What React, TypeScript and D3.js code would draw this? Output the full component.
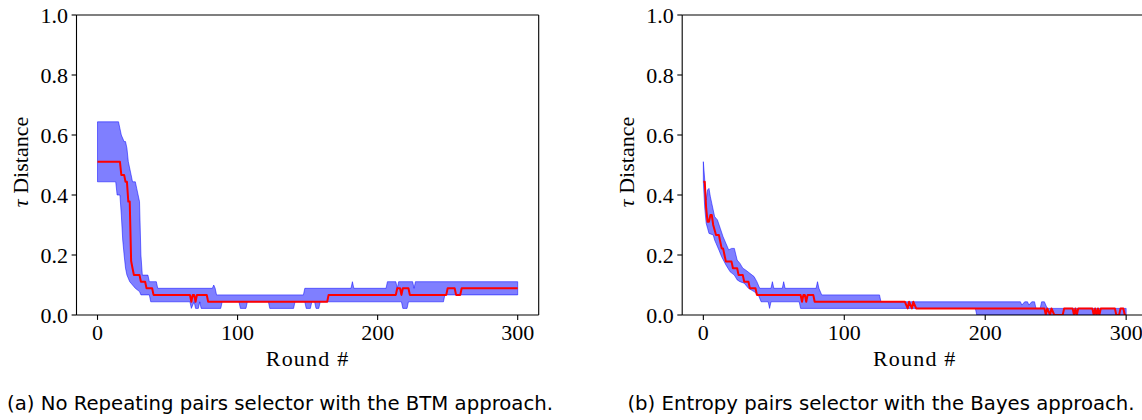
import React from "react";
import * as d3 from "d3";

// ---------- data ----------
const roundTicks = [0, 100, 200, 300];
const tauTicks = [0, 0.2, 0.4, 0.6, 0.8, 1.0];

// Panel (a): No Repeating pairs selector, BTM approach. [round, tau]
const meanA: [number, number][] = [
  [0, 0.511], [16, 0.511], [17, 0.467], [19, 0.467], [20, 0.444], [21, 0.444], [22, 0.378], [23, 0.378],
  [24, 0.18], [25, 0.156], [26, 0.133], [30, 0.133], [31, 0.111], [34, 0.111], [35, 0.089], [39, 0.089],
  [40, 0.067], [66, 0.067], [67, 0.044], [68, 0.067], [69, 0.067], [70, 0.044], [71, 0.067], [78, 0.067],
  [79, 0.044], [164, 0.044], [165, 0.067], [213, 0.067], [214, 0.089], [216, 0.089], [217, 0.067],
  [218, 0.089], [222, 0.089], [223, 0.067], [249, 0.067], [250, 0.089], [255, 0.089], [256, 0.067],
  [259, 0.067], [260, 0.089], [300, 0.089],
];
const upperA: [number, number][] = [
  [0, 0.644], [15, 0.644], [16, 0.622], [17, 0.6], [19, 0.578], [20, 0.578], [21, 0.556], [22, 0.511],
  [24, 0.467], [25, 0.444], [27, 0.444], [28, 0.422], [29, 0.4], [30, 0.378], [31, 0.2], [32, 0.133],
  [36, 0.133], [37, 0.111], [42, 0.111], [43, 0.089], [82, 0.089], [83, 0.1], [84, 0.089], [85, 0.067],
  [147, 0.067], [148, 0.089], [181, 0.089], [182, 0.111], [183, 0.089], [206, 0.089], [207, 0.111],
  [213, 0.111], [214, 0.089], [215, 0.111], [225, 0.111], [226, 0.089], [227, 0.111], [300, 0.111],
];
const lowerA: [number, number][] = [
  [0, 0.444], [13, 0.444], [14, 0.4], [16, 0.4], [17, 0.333], [18, 0.25], [19, 0.2], [20, 0.156],
  [21, 0.133], [23, 0.111], [25, 0.1], [27, 0.089], [30, 0.078], [31, 0.067], [37, 0.067], [38, 0.044],
  [66, 0.044], [67, 0.022], [69, 0.044], [70, 0.022], [72, 0.022], [73, 0.044], [74, 0.022], [88, 0.022],
  [89, 0.044], [101, 0.044], [102, 0.022], [106, 0.022], [107, 0.044], [122, 0.044], [123, 0.022],
  [140, 0.022], [141, 0.044], [148, 0.044], [149, 0.022], [152, 0.022], [153, 0.044], [155, 0.044],
  [156, 0.022], [158, 0.022], [159, 0.044], [217, 0.044], [218, 0.022], [221, 0.022], [222, 0.044],
  [247, 0.044], [248, 0.067], [300, 0.067],
];

// Panel (b): Entropy pairs selector, Bayes approach. [round, tau]
const meanB: [number, number][] = [
  [0, 0.444], [1, 0.444], [2, 0.356], [3, 0.311], [4, 0.311], [5, 0.333], [6, 0.333], [7, 0.3],
  [9, 0.267], [11, 0.267], [12, 0.244], [13, 0.222], [14, 0.222], [15, 0.2], [16, 0.178], [20, 0.178],
  [21, 0.156], [24, 0.156], [25, 0.133], [28, 0.133], [29, 0.111], [32, 0.111], [33, 0.089], [37, 0.089],
  [38, 0.067], [69, 0.067], [70, 0.044], [71, 0.067], [72, 0.067], [73, 0.044], [74, 0.067], [78, 0.067],
  [79, 0.044], [143, 0.044], [145, 0.022], [146, 0.044], [148, 0.022], [149, 0.044], [151, 0.022],
  [242, 0.022], [243, 0], [244, 0.022], [246, 0], [247, 0.022], [249, 0], [255, 0], [256, 0.022],
  [262, 0.022], [263, 0], [264, 0.022], [265, 0], [266, 0.022], [276, 0.022], [277, 0], [278, 0.022],
  [279, 0], [280, 0.022], [281, 0], [282, 0.022], [292, 0.022], [293, 0], [295, 0], [296, 0.022],
  [298, 0.022], [299, 0], [300, 0],
];
const upperB: [number, number][] = [
  [0, 0.511], [1, 0.45], [2, 0.383], [3, 0.417], [4, 0.422], [5, 0.394], [6, 0.372], [7, 0.35],
  [8, 0.328], [10, 0.317], [12, 0.289], [14, 0.261], [16, 0.239], [18, 0.217], [20, 0.222], [22, 0.222],
  [24, 0.183], [26, 0.172], [28, 0.156], [30, 0.15], [33, 0.139], [36, 0.128], [38, 0.111], [40, 0.089],
  [48, 0.089], [49, 0.111], [50, 0.089], [56, 0.089], [57, 0.111], [58, 0.089], [80, 0.089], [81, 0.111],
  [82, 0.089], [84, 0.067], [125, 0.067], [126, 0.044], [225, 0.044], [226, 0.033], [228, 0.044],
  [230, 0.044], [231, 0.033], [233, 0.044], [235, 0.044], [236, 0.022], [239, 0.022], [240, 0.044],
  [242, 0.044], [244, 0.022], [300, 0.022],
];
const lowerB: [number, number][] = [
  [0, 0.444], [1, 0.356], [2, 0.306], [3, 0.289], [4, 0.272], [7, 0.267], [8, 0.25], [9, 0.239],
  [11, 0.217], [13, 0.194], [16, 0.167], [19, 0.144], [22, 0.133], [24, 0.117], [26, 0.111], [29, 0.106],
  [32, 0.089], [36, 0.078], [39, 0.067], [41, 0.044], [46, 0.044], [47, 0.022], [48, 0.044], [68, 0.044],
  [69, 0.022], [193, 0.022], [194, 0], [300, 0],
];

const captionA = "(a) No Repeating pairs selector with the BTM approach.";
const captionB = "(b) Entropy pairs selector with the Bayes approach.";

// ---------- layout ----------
const W = 1142;
const H = 420;
const TOP = 15;
const BOTTOM = 315;
const SERIF = "'Liberation Serif', 'Times New Roman', serif";
const SANS = "'DejaVu Sans', sans-serif";
const FS = 22;

type PanelProps = {
  id: string;
  left: number;
  right: number;
  mean: [number, number][];
  upper: [number, number][];
  lower: [number, number][];
  caption: string;
  captionX: number;
  showRightSpine: boolean;
};

function Panel({ id, left, right, mean, upper, lower, caption, captionX, showRightSpine }: PanelProps) {
  const x = d3.scaleLinear().domain([-15, 315]).range([left, right]);
  const y = d3.scaleLinear().domain([0, 1]).range([BOTTOM, TOP]);
  const line = d3
    .line<[number, number]>()
    .x((d) => x(d[0]))
    .y((d) => y(d[1]));
  const bandPts = [...upper, ...lower.slice().reverse()];
  const bandPath = line(bandPts) + "Z";
  const meanPath = line(mean) || "";
  const cx = (left + right) / 2;
  const cy = (TOP + BOTTOM) / 2;
  return (
    <g>
      <defs>
        <clipPath id={`clip-${id}`}>
          <rect x={left} y={TOP} width={right - left} height={BOTTOM - TOP} />
        </clipPath>
      </defs>
      <g clipPath={`url(#clip-${id})`}>
        <path d={bandPath} fill="#0000ff" fillOpacity={0.5} stroke="#0000ff" strokeOpacity={0.5} strokeWidth={1} />
        <path d={meanPath} fill="none" stroke="#ff0000" strokeWidth={2} strokeLinejoin="round" />
      </g>
      {/* spines */}
      <line x1={left} x2={left} y1={TOP} y2={BOTTOM} stroke="#000" strokeWidth={1.1} />
      <line x1={left} x2={right} y1={BOTTOM} y2={BOTTOM} stroke="#000" strokeWidth={1.1} />
      <line x1={left} x2={right} y1={TOP} y2={TOP} stroke="#000" strokeWidth={1.1} />
      {showRightSpine && <line x1={right} x2={right} y1={TOP} y2={BOTTOM} stroke="#000" strokeWidth={1.1} />}
      {/* x ticks */}
      {roundTicks.map((t) => (
        <g key={`x${t}`}>
          <line x1={x(t)} x2={x(t)} y1={BOTTOM} y2={BOTTOM + 4.9} stroke="#000" strokeWidth={1.1} />
          <text x={x(t)} y={340} textAnchor="middle" fontFamily={SERIF} fontSize={FS} fill="#000">
            {t}
          </text>
        </g>
      ))}
      {/* y ticks */}
      {tauTicks.map((t) => (
        <g key={`y${t}`}>
          <line x1={left - 4.9} x2={left} y1={y(t)} y2={y(t)} stroke="#000" strokeWidth={1.1} />
          <text x={left - 8.5} y={y(t) + 7.5} textAnchor="end" fontFamily={SERIF} fontSize={FS} fill="#000">
            {t.toFixed(1)}
          </text>
        </g>
      ))}
      {/* axis labels */}
      <text
        x={cx}
        y={366}
        textAnchor="middle"
        fontFamily={SERIF}
        fontSize={FS}
        letterSpacing={1.2}
        fill="#000"
      >
        Round #
      </text>
      <text
        transform={`translate(${left - 48.5},${cy - 3}) rotate(-90)`}
        textAnchor="middle"
        fontFamily={SERIF}
        fontSize={FS}
        fill="#000"
      >
        <tspan fontStyle="italic">τ</tspan> Distance
      </text>
      {/* caption */}
      <text x={captionX} y={410} textAnchor="middle" fontFamily={SANS} fontSize={19.7} fill="#000">
        {caption}
      </text>
    </g>
  );
}

export default function App() {
  return (
    <svg
      width={W}
      height={H}
      viewBox={`0 0 ${W} ${H}`}
      style={{ position: "absolute", left: 0, top: 0, background: "#fff" }}
    >
      <rect x={0} y={0} width={W} height={H} fill="#fff" />
      <Panel
        id="a"
        left={76.5}
        right={538.7}
        mean={meanA}
        upper={upperA}
        lower={lowerA}
        caption={captionA}
        captionX={280}
        showRightSpine={true}
      />
      <Panel
        id="b"
        left={682.2}
        right={1147.3}
        mean={meanB}
        upper={upperB}
        lower={lowerB}
        caption={captionB}
        captionX={881}
        showRightSpine={false}
      />
    </svg>
  );
}
